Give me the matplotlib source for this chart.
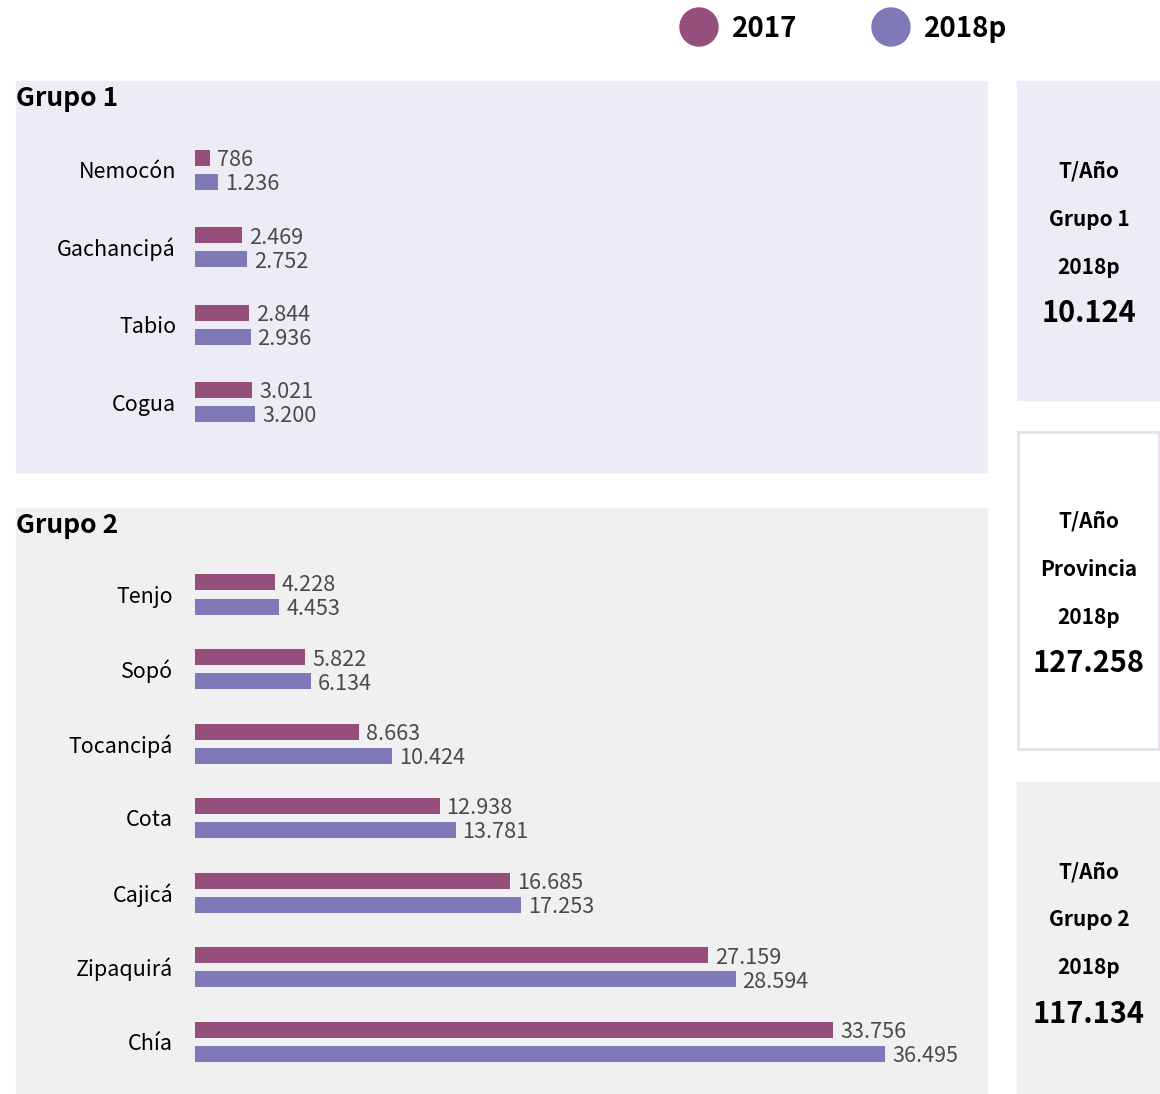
import matplotlib.pyplot as plt
import matplotlib.patches as mpatches
import numpy as np

# ------------------------- Data -------------------------
grupo1_municipios = ['Nemocón', 'Gachancipá', 'Tabio', 'Cogua']
grupo1_2017 = [786, 2469, 2844, 3021]
grupo1_2018 = [1236, 2752, 2936, 3200]

grupo2_municipios = ['Tenjo', 'Sopó', 'Tocancipá', 'Cota', 'Cajicá', 'Zipaquirá', 'Chía']
grupo2_2017 = [4228, 5822, 8663, 12938, 16685, 27159, 33756]
grupo2_2018 = [4453, 6134, 10424, 13781, 17253, 28594, 36495]

totales_titulos = ['Grupo 1', 'Provincia', 'Grupo 2']
totales_valores = [10124, 127258, 117134]

series = ['2017', '2018p']
colores = ['#964f7a', '#8079b8']

plt.rcParams['font.family'] = ['Noto Sans CJK SC', 'DejaVu Sans']
BOLD = 'heavy'

W, H = 1160, 1094
fig = plt.figure(figsize=(W / 100, H / 100), dpi=100)


def fmt(v):
    return f'{v:,}'.replace(',', '.')


def px(x, y):
    # pixel coords (top-down) -> figure fraction
    return x / W, 1 - y / H


def rect(x0, y0, x1, y1, **kw):
    fig.patches.append(mpatches.Rectangle((x0 / W, 1 - y1 / H), (x1 - x0) / W, (y1 - y0) / H,
                                          transform=fig.transFigure, zorder=-1, **kw))


# ------------------------- Legend -------------------------
for i, (name, c) in enumerate(zip(series, colores)):
    cx = 699 + i * 192
    fig.patches.append(mpatches.Ellipse(px(cx, 27), 38 / W, 38 / H, transform=fig.transFigure,
                                        color=c, zorder=3))
    fig.text(*px(cx + 33, 29), name, fontsize=20, fontweight=BOLD, va='center', ha='left')

# ------------------------- Panels -------------------------
scale = 0.018905  # px per unit
x_left, x_right = 195, 987


def panel(top, bottom, bg, title, municipios, v17, v18, first_center, spacing, label_x):
    rect(16, top, 987, bottom, color=bg)
    fig.text(*px(16, top + 17), title, fontsize=19, fontweight=BOLD, va='center', ha='left')
    ax = fig.add_axes([x_left / W, 1 - bottom / H, (x_right - x_left) / W, (bottom - top) / H])
    ax.set_facecolor('none')
    y = np.arange(len(municipios))
    ax.set_xlim(0, (x_right - x_left) / scale)
    ax.set_ylim((bottom - first_center) / spacing, -(first_center - top) / spacing)
    h = 16 / spacing
    off = 12 / spacing
    dy = 2.5 / spacing  # value labels sit slightly low
    ax.barh(y - off, v17, height=h, color=colores[0])
    ax.barh(y + off, v18, height=h, color=colores[1])
    for yi, a, b in zip(y, v17, v18):
        ax.text(a + 7 / scale, yi - off + dy, fmt(a), fontsize=15.6, color='#4a4a4a', va='center', ha='left')
        ax.text(b + 7 / scale, yi + off + dy, fmt(b), fontsize=15.6, color='#4a4a4a', va='center', ha='left')
    ax.set_yticks(y)
    ax.set_yticklabels(municipios, fontsize=15.5)
    ax.tick_params(axis='y', length=0, pad=(195 - label_x) * 0.72)
    ax.set_xticks([])
    for s in ax.spines.values():
        s.set_visible(False)
    return ax


panel(81, 472, '#edebf4', 'Grupo 1', grupo1_municipios, grupo1_2017, grupo1_2018,
      169.5, 77.5, 176)
panel(508, 1093, '#f0f0f0', 'Grupo 2', grupo2_municipios, grupo2_2017, grupo2_2018,
      594.5, 74.5, 173)

# ------------------------- Total boxes -------------------------
cajas = [(81, 400, '#edebf4', None), (431, 750, 'white', '#eadfe8'), (782, 1094, '#f0f0f0', None)]
for (top, bottom, bg, edge), titulo, valor in zip(cajas, totales_titulos, totales_valores):
    if edge:
        rect(1018, top + 1, 1159, bottom - 1, facecolor=bg, edgecolor=edge, linewidth=2)
    else:
        rect(1017, top, 1160, bottom, color=bg)
    t0 = top + 90
    for k, txt in enumerate(['T/Año', titulo, '2018p']):
        fig.text(*px(1089, t0 + k * 48), txt, fontsize=15, fontweight=BOLD, ha='center', va='center')
    fig.text(*px(1089, t0 + 142), fmt(valor), fontsize=20.8, fontweight=BOLD, ha='center', va='center')

fig.savefig('out.png', dpi=100)
